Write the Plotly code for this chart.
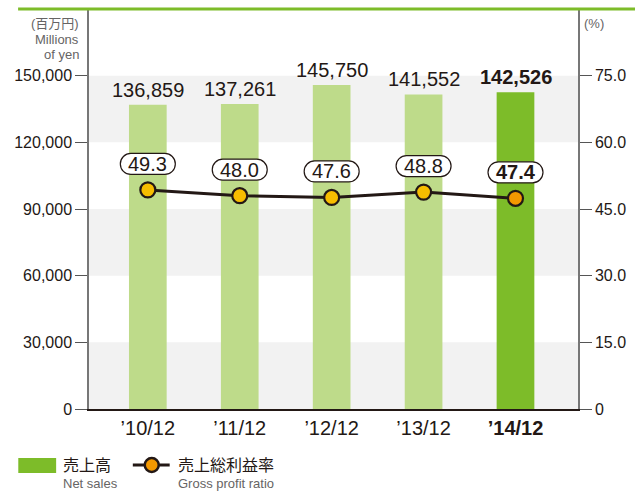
import plotly.graph_objects as go

# data
years = ["’10/12", "’11/12", "’12/12", "’13/12", "’14/12"]
net_sales = [136859, 137261, 145750, 141552, 142526]
gross_ratio = [49.3, 48.0, 47.6, 48.8, 47.4]
sales_ticks = [0, 30000, 60000, 90000, 120000, 150000]
ratio_ticks = [0, 15, 30, 45, 60, 75]

LIGHT_GREEN = '#bedb8a'
DARK_GREEN = '#7dbc29'
INK = '#231815'
GRAY = '#666464'
FONT = 'Arial, "Noto Sans CJK JP"'

xs = list(range(len(years)))
bar_colors = [LIGHT_GREEN] * (len(years) - 1) + [DARK_GREEN]
marker_colors = ['#f7bd00'] * (len(years) - 1) + ['#f39800']

fig = go.Figure()
fig.add_trace(go.Bar(x=xs, y=net_sales, width=0.41, marker=dict(color=bar_colors, line=dict(width=0)),
                     showlegend=False, yaxis='y'))
fig.add_trace(go.Scatter(x=xs, y=gross_ratio, mode='lines+markers', yaxis='y2', showlegend=False,
                         line=dict(color=INK, width=3),
                         marker=dict(size=15, color=marker_colors, line=dict(color=INK, width=2.2))))

shapes = []
# alternating background bands
for lo in [0, 60000, 120000]:
    shapes.append(dict(type='rect', xref='paper', yref='y', x0=0, x1=1, y0=lo, y1=lo + 30000,
                       fillcolor='#f2f2f2', line=dict(width=0), layer='below'))
# top green rule
shapes.append(dict(type='line', xref='paper', yref='paper', x0=-0.145, x1=1.12, y0=1.0, y1=1.0,
                   line=dict(color=DARK_GREEN, width=3)))

# pill-shaped boxes for the ratio labels (pixel offsets around each point)
pill = ("M -17,36.5 L 17,36.5 C 22.8,36.5 27.5,31.8 27.5,26 C 27.5,20.2 22.8,15.5 17,15.5 "
        "L -17,15.5 C -22.8,15.5 -27.5,20.2 -27.5,26 C -27.5,31.8 -22.8,36.5 -17,36.5 Z")
for i, v in enumerate(gross_ratio):
    shapes.append(dict(type='path', xref='x', yref='y2', xsizemode='pixel', ysizemode='pixel',
                       xanchor=i, yanchor=v, path=pill, fillcolor='white',
                       line=dict(color=INK, width=1.2)))

# legend swatches
shapes.append(dict(type='rect', xref='paper', yref='paper', x0=-0.1446, x1=-0.0672, y0=-0.1225, y1=-0.16,
                   fillcolor=DARK_GREEN, line=dict(width=0)))
shapes.append(dict(type='line', xref='paper', yref='paper', x0=0.0896, x1=0.165, y0=-0.14, y1=-0.14,
                   line=dict(color=INK, width=3)))
shapes.append(dict(type='circle', xref='paper', yref='paper', xsizemode='pixel', ysizemode='pixel',
                   xanchor=0.1283, yanchor=-0.14, x0=-7, x1=7, y0=-7, y1=7,
                   fillcolor='#f39800', line=dict(color=INK, width=2.5)))

annotations = []
for i, v in enumerate(net_sales):
    txt = f"{v:,}"
    if i == len(net_sales) - 1:
        txt = f"<b>{txt}</b>"
    annotations.append(dict(x=i, y=v, xref='x', yref='y', text=txt, showarrow=False,
                            yanchor='middle', yshift=15, font=dict(size=20, color=INK, family=FONT)))
for i, v in enumerate(gross_ratio):
    txt = f"{v:.1f}"
    if i == len(gross_ratio) - 1:
        txt = f"<b>{txt}</b>"
    annotations.append(dict(x=i, y=v, xref='x', yref='y2', text=txt, showarrow=False,
                            yanchor='middle', yshift=26, font=dict(size=20, color=INK, family=FONT)))


def note(x, y, text, size, color, anchor):
    return dict(x=x, y=y, xref='paper', yref='paper', text=text, xanchor=anchor, yanchor='middle',
                showarrow=False, borderpad=0, font=dict(size=size, color=color, family=FONT))


# axis titles
annotations += [
    note(-0.018, 0.965, '(百万円)', 13, GRAY, 'right'),
    note(-0.018, 0.9245, 'Millions', 13, GRAY, 'right'),
    note(-0.018, 0.887, 'of yen', 13, GRAY, 'right'),
    note(1.01, 0.965, '(%)', 13, GRAY, 'left'),
]

# legend text
annotations += [
    note(-0.055, -0.14, '売上高', 16, INK, 'left'),
    note(-0.055, -0.185, 'Net sales', 13, GRAY, 'left'),
    note(0.179, -0.14, '売上総利益率', 16, INK, 'left'),
    note(0.179, -0.185, 'Gross profit ratio', 13, GRAY, 'left'),
]

tick_text = list(years[:-1]) + [f"<b>{years[-1]}</b>"]

fig.update_layout(
    width=635, height=493,
    margin=dict(l=89, r=55, t=9, b=84),
    paper_bgcolor='white', plot_bgcolor='white',
    font=dict(family=FONT, color=INK),
    xaxis=dict(range=[-0.64, 4.68], tickvals=xs, ticktext=tick_text, showgrid=False, zeroline=False,
               showline=True, linecolor=INK, linewidth=1.5, ticks='',
               tickfont=dict(size=20, color=INK, family=FONT)),
    yaxis=dict(range=[0, 180000], tickvals=sales_ticks, ticktext=[f"{t:,}" for t in sales_ticks],
               showgrid=False, zeroline=False, showline=True, linecolor='#777', linewidth=1.5,
               ticks='outside', ticklen=12, tickcolor='#555', tickwidth=1.2,
               tickfont=dict(size=16, color=INK, family=FONT)),
    yaxis2=dict(range=[0, 90], overlaying='y', side='right', tickvals=ratio_ticks,
                ticktext=['0'] + [f"{t:.1f}" for t in ratio_ticks[1:]],
                showgrid=False, zeroline=False, showline=True, linecolor='#777', linewidth=1.5,
                ticks='outside', ticklen=12, tickcolor='#555', tickwidth=1.2,
                tickfont=dict(size=16, color=INK, family=FONT)),
    shapes=shapes,
    annotations=annotations,
)

fig.write_html("out.html", config={'displayModeBar': False},
               post_script="document.body.style.margin='0';")
